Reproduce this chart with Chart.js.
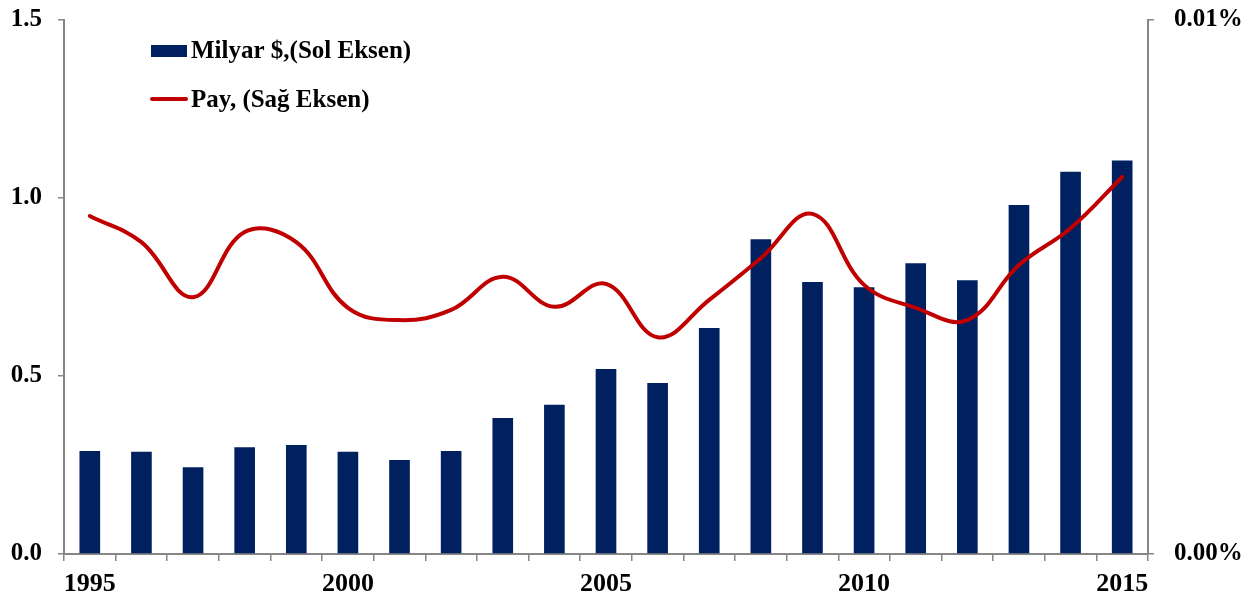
<!DOCTYPE html>
<html><head><meta charset="utf-8">
<script src="https://cdn.jsdelivr.net/npm/chart.js@4.4.1/dist/chart.umd.min.js"></script>
<style>html,body{margin:0;padding:0;background:#fff;overflow:hidden}#wrap{width:1253px;height:598px;position:relative}</style>
</head><body><div id="wrap"><canvas id="c" width="1253" height="598"></canvas></div>
<script>
const years = ['1995','1996','1997','1998','1999','2000','2001','2002','2003','2004','2005','2006','2007','2008','2009','2010','2011','2012','2013','2014','2015'];
const milyarUSD = [0.289,0.287,0.244,0.300,0.306,0.287,0.264,0.289,0.382,0.419,0.520,0.480,0.635,0.884,0.764,0.749,0.817,0.769,0.980,1.074,1.105];
const payPct = [0.00633,0.00584,0.00481,0.00603,0.00584,0.00461,0.00438,0.00457,0.00519,0.00463,0.00506,0.00406,0.00476,0.00554,0.00637,0.00504,0.00461,0.00438,0.00541,0.00610,0.00706];
const leftTicks = [0, 0.5, 1.0, 1.5];
const rightTicks = [0, 0.01];
const xLabelYears = ['1995','2000','2005','2010','2015'];
const seriesNames = ['Milyar $,(Sol Eksen)', 'Pay, (Sağ Eksen)'];

const NAVY = '#002060', RED = '#C00000', AXIS = '#868686';
const FAMILY = "'Liberation Serif','Times New Roman',serif";
const FONT = {family: FAMILY, size: 25, weight: 'bold'};
const XFONT = {family: FAMILY, size: 26, weight: 'bold'};

const legendPlugin = {
  id: 'insideLegend',
  afterDraw(chart) {
    const ctx = chart.ctx;
    ctx.save();
    ctx.font = "bold 25px " + FAMILY;
    ctx.textBaseline = 'middle';
    ctx.textAlign = 'left';
    ctx.fillStyle = NAVY;
    ctx.fillRect(151, 45, 36, 12);
    ctx.fillStyle = '#000';
    ctx.fillText(seriesNames[0], 191, 52);
    ctx.strokeStyle = RED;
    ctx.lineWidth = 4;
    ctx.lineCap = 'round';
    ctx.beginPath();
    ctx.moveTo(152, 99);
    ctx.lineTo(186, 99);
    ctx.stroke();
    ctx.fillText(seriesNames[1], 191, 101);
    ctx.restore();
  }
};

const vFit = w => s => { s.width = w; s.paddingTop = 0; s.paddingBottom = 0; };

new Chart(document.getElementById('c'), {
  data: {
    labels: years,
    datasets: [
      {type: 'line', label: seriesNames[1], data: payPct, yAxisID: 'y1', borderColor: RED, borderWidth: 4,
       tension: 0.4, pointRadius: 0, pointHoverRadius: 0, fill: false, borderCapStyle: 'round', borderJoinStyle: 'round', order: 0},
      {type: 'bar', label: seriesNames[0], data: milyarUSD, yAxisID: 'y', backgroundColor: NAVY,
       barPercentage: 0.4, categoryPercentage: 1.0, order: 1}
    ]
  },
  options: {
    responsive: false,
    animation: false,
    layout: {autoPadding: false, padding: {top: 20, left: 0, right: 0, bottom: 0}},
    plugins: {legend: {display: false}, tooltip: {enabled: false}},
    scales: {
      x: {
        offset: true,
        grid: {offset: true, drawOnChartArea: false, drawTicks: true, tickLength: 7, color: AXIS, lineWidth: 1.5},
        border: {color: AXIS, width: 2},
        ticks: {autoSkip: false, maxRotation: 0, minRotation: 0, color: '#000', font: XFONT, padding: 8,
          callback: function(v, i) { const l = years[i]; return xLabelYears.includes(l) ? l : ''; }},
        afterFit: s => { s.height = 44; }
      },
      y: {
        position: 'left', min: 0, max: 1.5,
        afterBuildTicks: s => { s.ticks = leftTicks.map(v => ({value: v})); },
        grid: {drawOnChartArea: false, drawTicks: true, tickLength: 6, color: AXIS, lineWidth: 1.5},
        border: {color: AXIS, width: 2},
        ticks: {color: '#000', font: FONT, padding: 16, callback: v => Number(v).toFixed(1)},
        afterFit: vFit(64)
      },
      y1: {
        position: 'right', min: 0, max: 0.01,
        afterBuildTicks: s => { s.ticks = rightTicks.map(v => ({value: v})); },
        grid: {drawOnChartArea: false, drawTicks: true, tickLength: 6, color: AXIS, lineWidth: 1.5},
        border: {color: AXIS, width: 2},
        ticks: {color: '#000', font: FONT, padding: 20, callback: v => Number(v).toFixed(2) + '%'},
        afterFit: vFit(105)
      }
    }
  },
  plugins: [legendPlugin]
});
</script></body></html>
